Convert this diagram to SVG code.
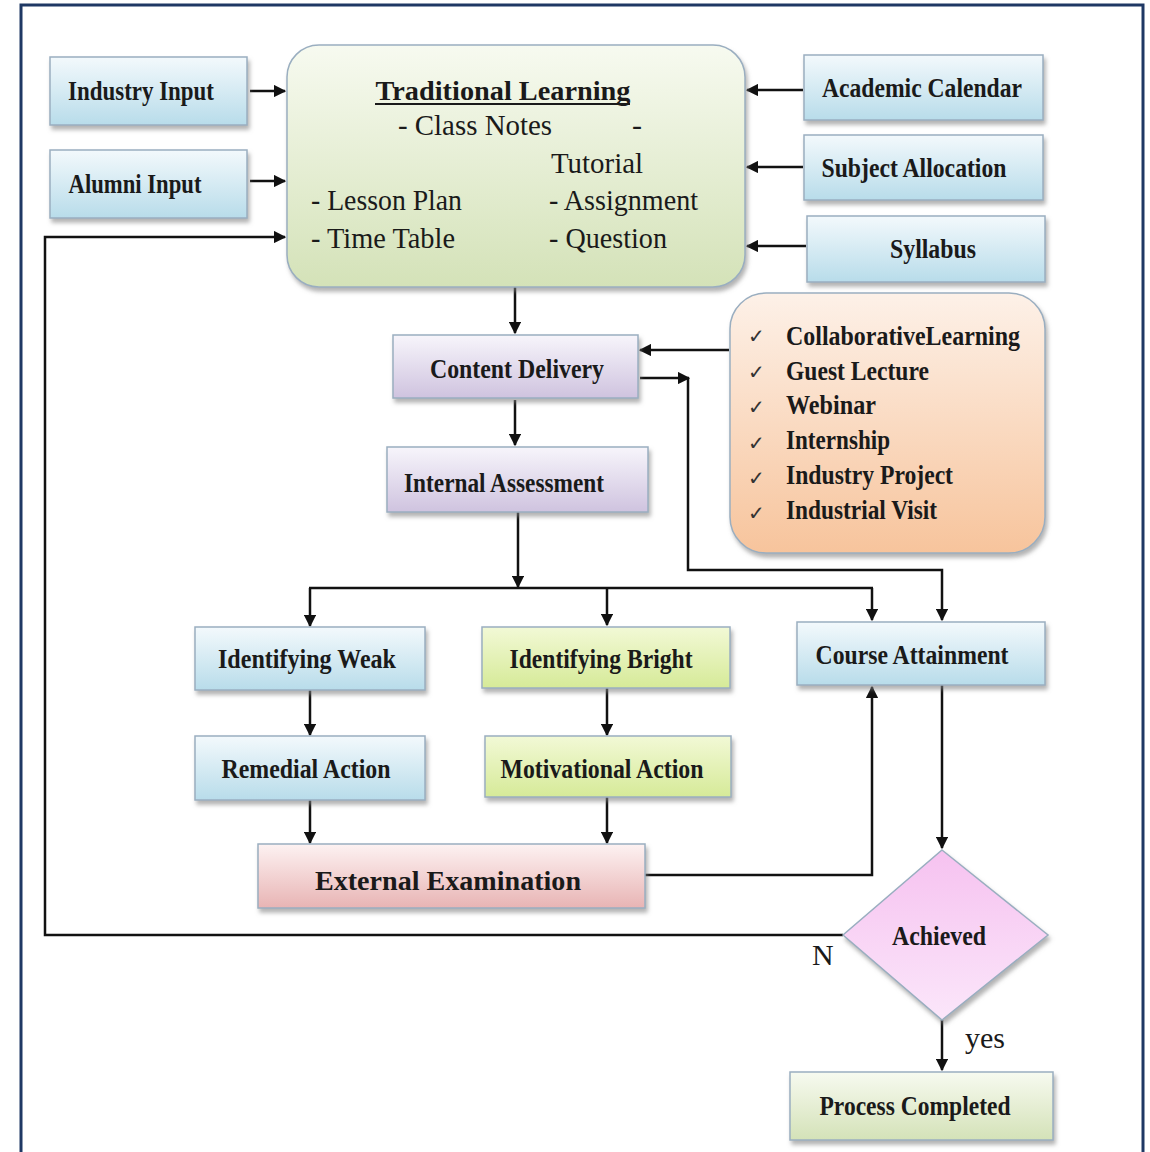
<svg xmlns="http://www.w3.org/2000/svg" width="1150" height="1152" viewBox="0 0 1150 1152">
<defs>
<linearGradient id="gBlue" x1="0" y1="0" x2="0" y2="1"><stop offset="0" stop-color="#f3f9fc"/><stop offset="1" stop-color="#b8dcea"/></linearGradient>
<linearGradient id="gGreen" x1="0" y1="0" x2="0" y2="1"><stop offset="0" stop-color="#f7faf0"/><stop offset="1" stop-color="#d4e2b8"/></linearGradient>
<linearGradient id="gPeach" x1="0" y1="0" x2="0" y2="1"><stop offset="0" stop-color="#fdf1e8"/><stop offset="1" stop-color="#f7c49c"/></linearGradient>
<linearGradient id="gLav" x1="0" y1="0" x2="0" y2="1"><stop offset="0" stop-color="#f7f5fb"/><stop offset="1" stop-color="#cfc3df"/></linearGradient>
<linearGradient id="gLime" x1="0" y1="0" x2="0" y2="1"><stop offset="0" stop-color="#f2f9d6"/><stop offset="1" stop-color="#d6ea98"/></linearGradient>
<linearGradient id="gPink" x1="0" y1="0" x2="0" y2="1"><stop offset="0" stop-color="#fdf2f2"/><stop offset="1" stop-color="#e8b4b4"/></linearGradient>
<linearGradient id="gViolet" x1="0" y1="0" x2="0" y2="1"><stop offset="0" stop-color="#f6c2f0"/><stop offset="1" stop-color="#fbe6fa"/></linearGradient>
<filter id="sh" x="-10%" y="-10%" width="125%" height="135%"><feDropShadow dx="2" dy="4" stdDeviation="2" flood-color="#808080" flood-opacity="0.6"/></filter>
<marker id="ah" viewBox="0 0 10 10" refX="9" refY="5" markerWidth="5" markerHeight="5" orient="auto" markerUnits="strokeWidth"><path d="M0,0 L10,5 L0,10 z" fill="#111"/></marker>
</defs>
<style>
.box{stroke:#9aaec0;stroke-width:1.5;filter:url(#sh)}
text{font-family:'Liberation Serif','DejaVu Serif',serif}
.lbl{font-weight:bold;font-size:27px;fill:#1a1a1a;text-anchor:middle}
.reg{font-size:30px;fill:#1a1a1a}
.lst{font-weight:bold;font-size:27px;fill:#1a1a1a}
.ck{font-size:20px;fill:#333}
.cn{fill:none;stroke:#111;stroke-width:2.5}
.ar{marker-end:url(#ah)}
</style>
<rect x="0" y="0" width="1150" height="1152" fill="#fff"/>
<rect x="21" y="5" width="1122" height="1170" fill="none" stroke="#1f3864" stroke-width="3"/>

<g id="connectors">
<line class="cn ar" x1="250" y1="91" x2="285" y2="91"/>
<line class="cn ar" x1="250" y1="181" x2="285" y2="181"/>
<line class="cn ar" x1="803" y1="90" x2="747" y2="90"/>
<line class="cn ar" x1="803" y1="167" x2="747" y2="167"/>
<line class="cn ar" x1="806" y1="246" x2="747" y2="246"/>
<line class="cn ar" x1="515" y1="287" x2="515" y2="333"/>
<line class="cn ar" x1="729" y1="350" x2="640" y2="350"/>
<line class="cn ar" x1="640" y1="378" x2="689" y2="378"/>
<polyline class="cn ar" points="688,378 688,570 942,570 942,620"/>
<line class="cn ar" x1="515" y1="400" x2="515" y2="445"/>
<line class="cn ar" x1="518" y1="512" x2="518" y2="587"/>
<line class="cn" x1="309" y1="588" x2="873" y2="588"/>
<line class="cn ar" x1="310" y1="588" x2="310" y2="626"/>
<line class="cn ar" x1="607" y1="588" x2="607" y2="625"/>
<line class="cn ar" x1="872" y1="588" x2="872" y2="620"/>
<line class="cn ar" x1="310" y1="690" x2="310" y2="735"/>
<line class="cn ar" x1="607" y1="688" x2="607" y2="735"/>
<line class="cn ar" x1="310" y1="800" x2="310" y2="843"/>
<line class="cn ar" x1="607" y1="797" x2="607" y2="843"/>
<polyline class="cn ar" points="645,875 872,875 872,687"/>
<line class="cn ar" x1="942" y1="685" x2="942" y2="848"/>
<polyline class="cn ar" points="843,935 45,935 45,237 285,237"/>
<line class="cn ar" x1="942" y1="1020" x2="942" y2="1070"/>
<text x="812" y="965" class="reg" font-size="28">N</text>
<text x="965" y="1048" class="reg" font-size="28">yes</text>
</g>

<g id="industry-input"><rect class="box" x="50" y="57" width="197" height="68" fill="url(#gBlue)"/><text class="lbl" x="141" y="100" textLength="146" lengthAdjust="spacingAndGlyphs">Industry Input</text></g>
<g id="alumni-input"><rect class="box" x="50" y="150" width="197" height="68" fill="url(#gBlue)"/><text class="lbl" x="135" y="193" textLength="133" lengthAdjust="spacingAndGlyphs">Alumni Input</text></g>

<g id="traditional-learning">
<rect class="box" x="287" y="45" width="458" height="242" rx="32" fill="url(#gGreen)" stroke="#b5c79a"/>
<text class="lbl" x="503" y="100" font-size="32" textLength="255" lengthAdjust="spacingAndGlyphs">Traditional Learning</text>
<line x1="375" y1="104" x2="630" y2="104" stroke="#1a1a1a" stroke-width="2"/>
<text class="reg" x="398" y="135" textLength="154" lengthAdjust="spacingAndGlyphs">-  Class Notes</text>
<text class="reg" x="632" y="135">-</text>
<text class="reg" x="551" y="173" textLength="92" lengthAdjust="spacingAndGlyphs">Tutorial</text>
<text class="reg" x="311" y="210" textLength="151" lengthAdjust="spacingAndGlyphs">- Lesson Plan</text>
<text class="reg" x="549" y="210" textLength="149" lengthAdjust="spacingAndGlyphs">- Assignment</text>
<text class="reg" x="311" y="248" textLength="144" lengthAdjust="spacingAndGlyphs">- Time Table</text>
<text class="reg" x="549" y="248" textLength="118" lengthAdjust="spacingAndGlyphs">- Question</text>
</g>

<g id="academic-calendar"><rect class="box" x="804" y="55" width="239" height="65" fill="url(#gBlue)"/><text class="lbl" x="922" y="97" textLength="200" lengthAdjust="spacingAndGlyphs">Academic Calendar</text></g>
<g id="subject-allocation"><rect class="box" x="804" y="135" width="239" height="65" fill="url(#gBlue)"/><text class="lbl" x="914" y="177" textLength="185" lengthAdjust="spacingAndGlyphs">Subject Allocation</text></g>
<g id="syllabus"><rect class="box" x="807" y="216" width="238" height="66" fill="url(#gBlue)"/><text class="lbl" x="933" y="258" textLength="86" lengthAdjust="spacingAndGlyphs">Syllabus</text></g>

<g id="activities">
<rect class="box" x="730" y="293" width="315" height="260" rx="36" fill="url(#gPeach)" stroke="#f0c8a8"/>
<text class="ck" x="748" y="343">✓</text><text class="lst" x="786" y="345" textLength="234" lengthAdjust="spacingAndGlyphs">CollaborativeLearning</text>
<text class="ck" x="748" y="379">✓</text><text class="lst" x="786" y="380" textLength="143" lengthAdjust="spacingAndGlyphs">Guest Lecture</text>
<text class="ck" x="748" y="414">✓</text><text class="lst" x="786" y="414" textLength="90" lengthAdjust="spacingAndGlyphs">Webinar</text>
<text class="ck" x="748" y="450">✓</text><text class="lst" x="786" y="449" textLength="104" lengthAdjust="spacingAndGlyphs">Internship</text>
<text class="ck" x="748" y="485">✓</text><text class="lst" x="786" y="484" textLength="167" lengthAdjust="spacingAndGlyphs">Industry Project</text>
<text class="ck" x="748" y="520">✓</text><text class="lst" x="786" y="519" textLength="151" lengthAdjust="spacingAndGlyphs">Industrial Visit</text>
</g>

<g id="content-delivery"><rect class="box" x="393" y="335" width="245" height="63" fill="url(#gLav)"/><text class="lbl" x="517" y="378" textLength="174" lengthAdjust="spacingAndGlyphs">Content Delivery</text></g>
<g id="internal-assessment"><rect class="box" x="387" y="447" width="261" height="65" fill="url(#gLav)"/><text class="lbl" x="504" y="492" textLength="200" lengthAdjust="spacingAndGlyphs">Internal Assessment</text></g>

<g id="identifying-weak"><rect class="box" x="195" y="627" width="230" height="63" fill="url(#gBlue)"/><text class="lbl" x="307" y="668" textLength="178" lengthAdjust="spacingAndGlyphs">Identifying Weak</text></g>
<g id="identifying-bright"><rect class="box" x="482" y="627" width="248" height="61" fill="url(#gLime)" stroke="#8aa64a"/><text class="lbl" x="601" y="668" textLength="183" lengthAdjust="spacingAndGlyphs">Identifying Bright</text></g>
<g id="course-attainment"><rect class="box" x="797" y="622" width="248" height="63" fill="url(#gBlue)"/><text class="lbl" x="912" y="664" textLength="193" lengthAdjust="spacingAndGlyphs">Course Attainment</text></g>

<g id="remedial-action"><rect class="box" x="195" y="736" width="230" height="64" fill="url(#gBlue)"/><text class="lbl" x="306" y="778" textLength="169" lengthAdjust="spacingAndGlyphs">Remedial Action</text></g>
<g id="motivational-action"><rect class="box" x="485" y="736" width="246" height="61" fill="url(#gLime)" stroke="#8aa64a"/><text class="lbl" x="602" y="778" textLength="203" lengthAdjust="spacingAndGlyphs">Motivational Action</text></g>

<g id="external-examination"><rect class="box" x="258" y="844" width="387" height="64" fill="url(#gPink)" stroke="#d9a0a0"/><text class="lbl" x="448" y="890" font-size="33" textLength="266" lengthAdjust="spacingAndGlyphs">External Examination</text></g>

<g id="achieved"><polygon class="box" points="942,850 1048,935 942,1020 843,935" fill="url(#gViolet)" stroke="#d8a8d0"/><text class="lbl" x="939" y="945" textLength="94" lengthAdjust="spacingAndGlyphs">Achieved</text></g>

<g id="process-completed"><rect class="box" x="790" y="1072" width="263" height="68" fill="url(#gGreen)" stroke="#b5c79a"/><text class="lbl" x="915" y="1115" textLength="191" lengthAdjust="spacingAndGlyphs">Process Completed</text></g>
</svg>
